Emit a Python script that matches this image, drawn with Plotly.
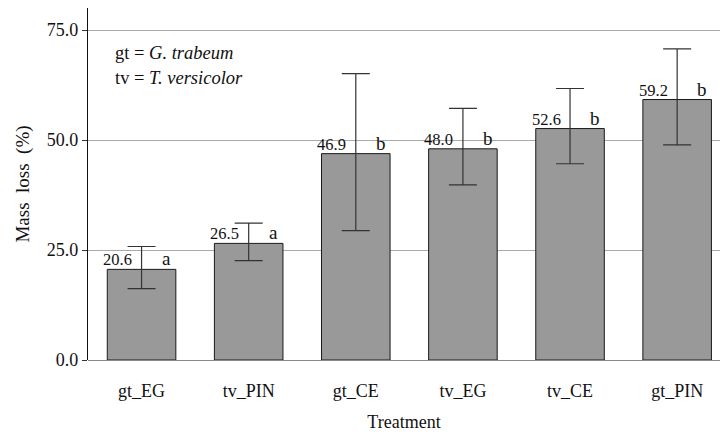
import plotly.graph_objects as go

categories = ["gt_EG", "tv_PIN", "gt_CE", "tv_EG", "tv_CE", "gt_PIN"]
mass_loss = [20.6, 26.5, 46.9, 48.0, 52.6, 59.2]
err_plus = [5.2, 4.6, 18.2, 9.2, 9.1, 11.5]
err_minus = [4.4, 3.9, 17.5, 8.2, 8.0, 10.3]
letters = ["a", "a", "b", "b", "b", "b"]
value_labels = ["20.6", "26.5", "46.9", "48.0", "52.6", "59.2"]

FONT = "Liberation Serif, Times New Roman, serif"

fig = go.Figure()
fig.add_trace(go.Bar(
    x=categories, y=mass_loss, width=0.64,
    marker=dict(color="#999999", line=dict(color="#1a1a1a", width=1)),
    error_y=dict(type="data", symmetric=False, array=err_plus, arrayminus=err_minus,
                 color="#333333", thickness=1.2, width=14),
    showlegend=False, hoverinfo="skip",
))

for c, v, lab, let in zip(categories, mass_loss, value_labels, letters):
    fig.add_annotation(x=c, y=v, text=lab, showarrow=False, xanchor="center",
                       yanchor="bottom", xshift=-24, yshift=-2,
                       font=dict(family=FONT, size=16.5, color="#111111"))
    fig.add_annotation(x=c, y=v, text=let, showarrow=False, xanchor="center",
                       yanchor="bottom", xshift=25, yshift=-2,
                       font=dict(family=FONT, size=19, color="#111111"))

fig.add_annotation(xref="paper", yref="paper", x=0.04, y=0.872, xanchor="left",
                   yanchor="middle", showarrow=False,
                   text="gt = <i>G. trabeum</i>",
                   font=dict(family=FONT, size=18.5, color="#111111"))
fig.add_annotation(xref="paper", yref="paper", x=0.04, y=0.801, xanchor="left",
                   yanchor="middle", showarrow=False,
                   text="tv = <i>T. versicolor</i>",
                   font=dict(family=FONT, size=18.5, color="#111111"))

fig.update_layout(
    width=720, height=432,
    margin=dict(l=88, r=0, t=8, b=72),
    plot_bgcolor="white", paper_bgcolor="white",
    font=dict(family=FONT, size=17, color="#111111"),
)
fig.update_xaxes(
    range=[-0.5, 5.4], showgrid=False, showline=False, zeroline=False,
    ticks="", ticklabelstandoff=18,
    tickfont=dict(family=FONT, size=18),
    title=dict(text="Treatment", font=dict(family=FONT, size=18), standoff=16),
)
fig.update_yaxes(
    range=[0, 80], tickvals=[0, 25, 50, 75], ticktext=["0.0", "25.0", "50.0", "75.0"],
    showgrid=True, gridcolor="#aaaaaa", gridwidth=1,
    zeroline=True, zerolinecolor="#888888", zerolinewidth=1,
    showline=True, linecolor="#111111", linewidth=1.2,
    ticks="outside", ticklen=5, tickcolor="#333333", tickwidth=1,
    tickfont=dict(family=FONT, size=18),
    title=dict(text="Mass  loss  (%)", font=dict(family=FONT, size=19), standoff=12),
)

fig.write_html(
    "out.html",
    config={"displayModeBar": False},
    post_script="document.body.style.margin='0';document.body.style.overflow='hidden';",
)
